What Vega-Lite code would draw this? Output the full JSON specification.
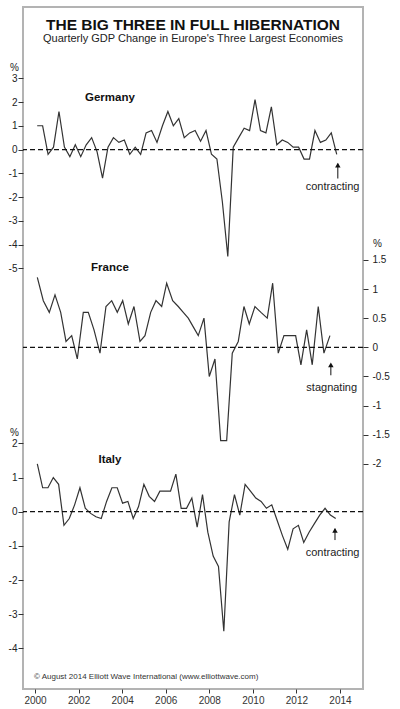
{
  "$schema": "https://vega.github.io/schema/vega-lite/v6.json",
  "autosize": {"type": "none"},
  "width": 340,
  "height": 682,
  "padding": {"left": 23, "top": 7, "right": 37, "bottom": 20},
  "background": "white",
  "title": {
    "text": "THE BIG THREE IN FULL HIBERNATION",
    "subtitle": "Quarterly GDP Change in Europe's Three Largest Economies",
    "anchor": "middle",
    "offset": -37,
    "font": "Liberation Sans",
    "fontSize": 15.5,
    "fontWeight": "bold",
    "color": "#111",
    "subtitleFont": "Liberation Sans",
    "subtitleFontSize": 11,
    "subtitleColor": "#222",
    "subtitlePadding": 0
  },
  "config": {
    "font": "Liberation Sans",
    "view": {"stroke": "#b3b3b3", "strokeWidth": 2},
    "axis": {
      "domain": false,
      "grid": false,
      "labelFont": "Liberation Sans",
      "labelFontSize": 10,
      "labelColor": "#222",
      "tickColor": "#333",
      "tickSize": 5,
      "labelPadding": 1,
      "titleFont": "Liberation Sans",
      "titleFontSize": 10,
      "titleFontWeight": "normal",
      "titleColor": "#222"
    },
    "text": {"font": "Liberation Sans", "color": "#222"}
  },
  "datasets": {
    "germany": [
      {"t": 2000.1, "v": 1.0}, {"t": 2000.35, "v": 1.0}, {"t": 2000.6, "v": -0.2}, {"t": 2000.85, "v": 0.1},
      {"t": 2001.1, "v": 1.6}, {"t": 2001.35, "v": 0.1}, {"t": 2001.6, "v": -0.3}, {"t": 2001.85, "v": 0.2},
      {"t": 2002.1, "v": -0.3}, {"t": 2002.35, "v": 0.2}, {"t": 2002.6, "v": 0.5}, {"t": 2002.85, "v": -0.1},
      {"t": 2003.1, "v": -1.2}, {"t": 2003.35, "v": 0.1}, {"t": 2003.6, "v": 0.5}, {"t": 2003.85, "v": 0.3},
      {"t": 2004.1, "v": 0.4}, {"t": 2004.35, "v": -0.2}, {"t": 2004.6, "v": 0.1}, {"t": 2004.85, "v": -0.2},
      {"t": 2005.1, "v": 0.7}, {"t": 2005.35, "v": 0.8}, {"t": 2005.6, "v": 0.3}, {"t": 2005.85, "v": 1.0},
      {"t": 2006.1, "v": 1.6}, {"t": 2006.35, "v": 1.0}, {"t": 2006.6, "v": 1.3}, {"t": 2006.85, "v": 0.5},
      {"t": 2007.1, "v": 0.7}, {"t": 2007.35, "v": 0.8}, {"t": 2007.6, "v": 0.35}, {"t": 2007.85, "v": 0.8},
      {"t": 2008.1, "v": -0.2}, {"t": 2008.35, "v": -0.4}, {"t": 2008.6, "v": -2.2}, {"t": 2008.85, "v": -4.5},
      {"t": 2009.1, "v": 0.1}, {"t": 2009.35, "v": 0.5}, {"t": 2009.6, "v": 0.9}, {"t": 2009.85, "v": 0.8},
      {"t": 2010.1, "v": 2.1}, {"t": 2010.35, "v": 0.8}, {"t": 2010.6, "v": 0.7}, {"t": 2010.85, "v": 1.8},
      {"t": 2011.1, "v": 0.2}, {"t": 2011.35, "v": 0.4}, {"t": 2011.6, "v": 0.3}, {"t": 2011.85, "v": 0.1},
      {"t": 2012.1, "v": 0.1}, {"t": 2012.35, "v": -0.4}, {"t": 2012.6, "v": -0.4}, {"t": 2012.85, "v": 0.8},
      {"t": 2013.1, "v": 0.3}, {"t": 2013.35, "v": 0.4}, {"t": 2013.6, "v": 0.7}, {"t": 2013.85, "v": -0.2}
    ],
    "france": [
      {"t": 2000.106, "v": 1.2}, {"t": 2000.381, "v": 0.8}, {"t": 2000.656, "v": 0.6}, {"t": 2000.918, "v": 0.9},
      {"t": 2001.179, "v": 0.6}, {"t": 2001.423, "v": 0.1}, {"t": 2001.684, "v": 0.2}, {"t": 2001.941, "v": -0.2},
      {"t": 2002.217, "v": 0.6}, {"t": 2002.446, "v": 0.6}, {"t": 2002.708, "v": 0.3}, {"t": 2002.983, "v": -0.1},
      {"t": 2003.258, "v": 0.7}, {"t": 2003.52, "v": 0.8}, {"t": 2003.777, "v": 0.6}, {"t": 2004.025, "v": 0.8},
      {"t": 2004.282, "v": 0.4}, {"t": 2004.543, "v": 0.7}, {"t": 2004.819, "v": 0.1}, {"t": 2005.048, "v": 0.2},
      {"t": 2005.31, "v": 0.6}, {"t": 2005.553, "v": 0.8}, {"t": 2005.815, "v": 0.7}, {"t": 2006.044, "v": 1.1},
      {"t": 2006.319, "v": 0.8}, {"t": 2006.576, "v": 0.7}, {"t": 2006.806, "v": 0.6}, {"t": 2007.035, "v": 0.5},
      {"t": 2007.265, "v": 0.35}, {"t": 2007.494, "v": 0.2}, {"t": 2007.756, "v": 0.5}, {"t": 2007.999, "v": -0.5},
      {"t": 2008.261, "v": -0.2}, {"t": 2008.522, "v": -1.6}, {"t": 2008.798, "v": -1.6}, {"t": 2009.055, "v": -0.1},
      {"t": 2009.33, "v": 0.1}, {"t": 2009.591, "v": 0.7}, {"t": 2009.835, "v": 0.4}, {"t": 2010.096, "v": 0.7},
      {"t": 2010.372, "v": 0.6}, {"t": 2010.661, "v": 0.5}, {"t": 2010.909, "v": 1.1}, {"t": 2011.166, "v": -0.1},
      {"t": 2011.427, "v": 0.2}, {"t": 2011.703, "v": 0.2}, {"t": 2011.964, "v": 0.2}, {"t": 2012.207, "v": -0.3},
      {"t": 2012.469, "v": 0.3}, {"t": 2012.726, "v": -0.3}, {"t": 2013.001, "v": 0.7}, {"t": 2013.263, "v": -0.1},
      {"t": 2013.538, "v": 0.2}
    ],
    "italy": [
      {"t": 2000.106, "v": 1.4}, {"t": 2000.351, "v": 0.7}, {"t": 2000.595, "v": 0.7}, {"t": 2000.84, "v": 1.0},
      {"t": 2001.084, "v": 0.8}, {"t": 2001.329, "v": -0.4}, {"t": 2001.574, "v": -0.2}, {"t": 2001.818, "v": 0.2},
      {"t": 2002.063, "v": 0.7}, {"t": 2002.307, "v": 0.1}, {"t": 2002.552, "v": -0.05}, {"t": 2002.797, "v": -0.15},
      {"t": 2003.041, "v": -0.2}, {"t": 2003.286, "v": 0.3}, {"t": 2003.53, "v": 0.7}, {"t": 2003.775, "v": 0.7},
      {"t": 2004.02, "v": 0.25}, {"t": 2004.264, "v": 0.3}, {"t": 2004.509, "v": -0.2}, {"t": 2004.753, "v": 0.15},
      {"t": 2004.998, "v": 0.8}, {"t": 2005.243, "v": 0.45}, {"t": 2005.487, "v": 0.3}, {"t": 2005.732, "v": 0.6},
      {"t": 2005.976, "v": 0.6}, {"t": 2006.221, "v": 0.6}, {"t": 2006.466, "v": 1.1}, {"t": 2006.71, "v": 0.1},
      {"t": 2006.955, "v": 0.1}, {"t": 2007.199, "v": 0.4}, {"t": 2007.444, "v": -0.45}, {"t": 2007.689, "v": 0.5},
      {"t": 2007.933, "v": -0.6}, {"t": 2008.178, "v": -1.3}, {"t": 2008.422, "v": -1.6}, {"t": 2008.667, "v": -3.5},
      {"t": 2008.912, "v": -0.3}, {"t": 2009.156, "v": 0.5}, {"t": 2009.401, "v": -0.1}, {"t": 2009.645, "v": 0.8},
      {"t": 2009.89, "v": 0.6}, {"t": 2010.135, "v": 0.4}, {"t": 2010.379, "v": 0.3}, {"t": 2010.624, "v": 0.1},
      {"t": 2010.868, "v": 0.2}, {"t": 2011.113, "v": -0.25}, {"t": 2011.358, "v": -0.7}, {"t": 2011.602, "v": -1.1},
      {"t": 2011.847, "v": -0.5}, {"t": 2012.091, "v": -0.4}, {"t": 2012.336, "v": -0.9}, {"t": 2012.581, "v": -0.6},
      {"t": 2012.825, "v": -0.35}, {"t": 2013.07, "v": -0.1}, {"t": 2013.314, "v": 0.1}, {"t": 2013.559, "v": -0.1},
      {"t": 2013.804, "v": -0.2}
    ]
  },
  "layer": [
    {
      "layer": [
        {
          "data": {"name": "germany"},
          "mark": {"type": "line", "color": "#333", "strokeWidth": 1.2},
          "encoding": {
            "x": {
              "field": "t", "type": "quantitative",
              "scale": {"domain": [1999.449, 2015.056], "nice": false, "zero": false},
              "axis": {
                "values": [2000, 2001, 2002, 2003, 2004, 2005, 2006, 2007, 2008, 2009, 2010, 2011, 2012, 2013, 2014],
                "labelExpr": "datum.value % 2 == 0 ? '' + datum.value : ''",
                "title": null, "tickSize": 4, "labelPadding": 2, "labelColor": "#333"
              }
            },
            "y": {
              "field": "v", "type": "quantitative",
              "scale": {"domain": [-22.71, 6.0], "nice": false, "zero": false},
              "axis": {
                "orient": "left",
                "values": [-5, -4, -3, -2, -1, 0, 1, 2, 3],
                "labelExpr": "'' + datum.value",
                "title": "%", "titleAngle": 0, "titleAlign": "center", "titleBaseline": "middle",
                "titleX": -9, "titleY": 60
              }
            }
          }
        },
        {
          "data": {"values": [{}]},
          "mark": {"type": "rule", "strokeDash": [5, 3], "color": "#111", "strokeWidth": 1.2},
          "encoding": {"y": {"datum": 0}}
        },
        {
          "data": {"values": [{}]},
          "mark": {"type": "text", "fontWeight": "bold", "fontSize": 11.5, "color": "#111"},
          "encoding": {"x": {"datum": 2003.44}, "y": {"datum": 2.15}, "text": {"value": "Germany"}}
        },
        {
          "data": {"values": [{}]},
          "mark": {"type": "text", "fontSize": 11},
          "encoding": {"x": {"datum": 2013.66}, "y": {"datum": -1.57}, "text": {"value": "contracting"}}
        },
        {
          "data": {"values": [{}]},
          "mark": {"type": "rule", "color": "#111", "strokeWidth": 1},
          "encoding": {"x": {"datum": 2013.9}, "y": {"datum": -0.6}, "y2": {"datum": -1.22}}
        },
        {
          "data": {"values": [{}]},
          "mark": {"type": "point", "shape": "triangle-up", "filled": true, "size": 30, "color": "#111", "opacity": 1},
          "encoding": {"x": {"datum": 2013.9}, "y": {"datum": -0.66}}
        }
      ]
    },
    {
      "layer": [
        {
          "data": {"name": "france"},
          "mark": {"type": "line", "color": "#333", "strokeWidth": 1.2},
          "encoding": {
            "x": {"field": "t", "type": "quantitative"},
            "y": {
              "field": "v", "type": "quantitative",
              "scale": {"domain": [-5.862, 5.838], "nice": false, "zero": false},
              "axis": {
                "orient": "right",
                "values": [-2, -1.5, -1, -0.5, 0, 0.5, 1, 1.5],
                "labelExpr": "'' + datum.value",
                "labelPadding": 4,
                "title": "%", "titleAngle": 0, "titleAlign": "center", "titleBaseline": "middle",
                "titleX": 14, "titleY": 236
              }
            }
          }
        },
        {
          "data": {"values": [{}]},
          "mark": {"type": "rule", "strokeDash": [5, 3], "color": "#111", "strokeWidth": 1.2},
          "encoding": {"y": {"datum": 0}}
        },
        {
          "data": {"values": [{}]},
          "mark": {"type": "text", "fontWeight": "bold", "fontSize": 11.5, "color": "#111"},
          "encoding": {"x": {"datum": 2003.44}, "y": {"datum": 1.355}, "text": {"value": "France"}}
        },
        {
          "data": {"values": [{}]},
          "mark": {"type": "text", "fontSize": 11},
          "encoding": {"x": {"datum": 2013.62}, "y": {"datum": -0.693}, "text": {"value": "stagnating"}}
        },
        {
          "data": {"values": [{}]},
          "mark": {"type": "rule", "color": "#111", "strokeWidth": 1},
          "encoding": {"x": {"datum": 2013.58}, "y": {"datum": -0.3}, "y2": {"datum": -0.48}}
        },
        {
          "data": {"values": [{}]},
          "mark": {"type": "point", "shape": "triangle-up", "filled": true, "size": 30, "color": "#111", "opacity": 1},
          "encoding": {"x": {"datum": 2013.58}, "y": {"datum": -0.3}}
        }
      ]
    },
    {
      "layer": [
        {
          "data": {"name": "italy"},
          "mark": {"type": "line", "color": "#333", "strokeWidth": 1.2},
          "encoding": {
            "x": {"field": "t", "type": "quantitative"},
            "y": {
              "field": "v", "type": "quantitative",
              "scale": {"domain": [-5.189, 14.77], "nice": false, "zero": false},
              "axis": {
                "orient": "left",
                "values": [-4, -3, -2, -1, 0, 1, 2],
                "labelExpr": "'' + datum.value",
                "title": "%", "titleAngle": 0, "titleAlign": "center", "titleBaseline": "middle",
                "titleX": -9, "titleY": 425
              }
            }
          }
        },
        {
          "data": {"values": [{}]},
          "mark": {"type": "rule", "strokeDash": [5, 3], "color": "#111", "strokeWidth": 1.2},
          "encoding": {"y": {"datum": 0}}
        },
        {
          "data": {"values": [{}]},
          "mark": {"type": "text", "fontWeight": "bold", "fontSize": 11.5, "color": "#111"},
          "encoding": {"x": {"datum": 2003.44}, "y": {"datum": 1.52}, "text": {"value": "Italy"}}
        },
        {
          "data": {"values": [{}]},
          "mark": {"type": "text", "fontSize": 11},
          "encoding": {"x": {"datum": 2013.66}, "y": {"datum": -1.217}, "text": {"value": "contracting"}}
        },
        {
          "data": {"values": [{}]},
          "mark": {"type": "rule", "color": "#111", "strokeWidth": 1},
          "encoding": {"x": {"datum": 2013.77}, "y": {"datum": -0.5}, "y2": {"datum": -0.83}}
        },
        {
          "data": {"values": [{}]},
          "mark": {"type": "point", "shape": "triangle-up", "filled": true, "size": 30, "color": "#111", "opacity": 1},
          "encoding": {"x": {"datum": 2013.77}, "y": {"datum": -0.55}}
        },
        {
          "data": {"values": [{}]},
          "mark": {"type": "text", "fontSize": 8, "align": "left", "color": "#333"},
          "encoding": {"x": {"datum": 1999.954}, "y": {"datum": -4.84}, "text": {"value": "© August 2014 Elliott Wave International (www.elliottwave.com)"}}
        }
      ]
    }
  ],
  "resolve": {"scale": {"y": "independent"}, "axis": {"y": "independent"}}
}
